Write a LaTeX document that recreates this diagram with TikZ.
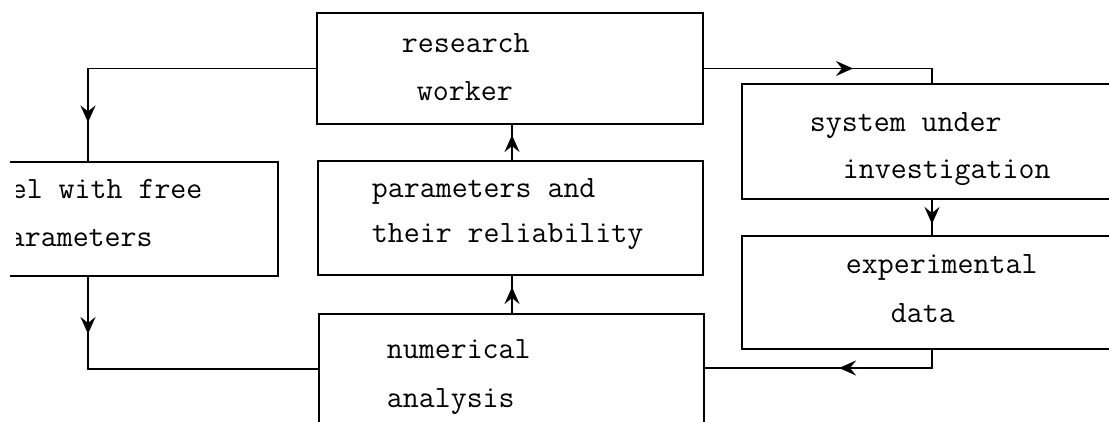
\documentclass[tikz,border=0pt]{standalone}
\usetikzlibrary{arrows.meta,decorations.markings}
\begin{document}
\begin{tikzpicture}[x=1pt,y=-1pt,
  line width=1.9pt,
  box/.style={draw,rectangle,inner sep=0pt},
  label/.style={anchor=base west,inner sep=0pt,font=\fontsize{31}{31}\selectfont\ttfamily},
  tipat/.style={postaction={decorate},
    decoration={markings,mark=at position #1 with {\arrow{Stealth[length=17pt,width=15pt,inset=6pt]}}}}]
\useasboundingbox (0,0) rectangle (1109,422);
\clip (10,-2) rectangle (1111,424);

% boxes
\node[box,minimum width=386pt,minimum height=111pt] (rw)  at (510,68.5) {};
\node[box,minimum width=385pt,minimum height=114pt] (par) at (510.5,218) {};
\node[box,minimum width=385pt,minimum height=170pt] (num) at (511.5,399) {};
\node[box,minimum width=340pt,minimum height=114pt] (mod) at (108,219) {};
\node[box,minimum width=460pt,minimum height=115pt] (sys) at (972,141.5) {};
\node[box,minimum width=460pt,minimum height=113pt] (exp) at (972,292.5) {};

% labels
\node[label] (rw1) at (401,53) {research};
\node[label] (rw2) at (416,101) {worker};
\node[label] (p1) at (371,198) {parameters and};
\node[label] (p2) at (371,243) {their reliability};
\node[label] (n1) at (386,358) {numerical};
\node[label] (n2) at (386,407) {analysis};
\node[label] (s1) at (809,132) {system under};
\node[label] (s2) at (842,179) {investigation};
\node[label] (e1) at (845,274) {experimental};
\node[label] (e2) at (890,323) {data};
\begin{scope}
  \clip (16,150) rectangle (300,280);
  \node[label] (m1) at (-38,199) {model with free};
  \node[label] (m2) at (-8,247) {parameters};
\end{scope}

% routing guides
\coordinate (lx) at (88,0);
\coordinate (mx) at (512,0);
\coordinate (rx) at (932,0);
\coordinate (ly) at (0,369);
\coordinate (ry) at (0,368);

% connectors
\draw[tipat=282pt] (rw.west) -| (lx |- mod.north);
\draw[tipat=57pt] (lx |- mod.south) |- (num.west |- ly);
\draw[tipat=25pt] (mx |- par.north) -- (mx |- rw.south);
\draw[tipat=26pt] (mx |- num.north) -- (mx |- par.south);
\draw[tipat=149pt] (rw.east) -| (rx |- sys.north);
\draw[tipat=24pt] (rx |- sys.south) -- (rx |- exp.north);
\draw[tipat=111pt] (rx |- exp.south) |- (num.east |- ry);
\end{tikzpicture}
\end{document}
